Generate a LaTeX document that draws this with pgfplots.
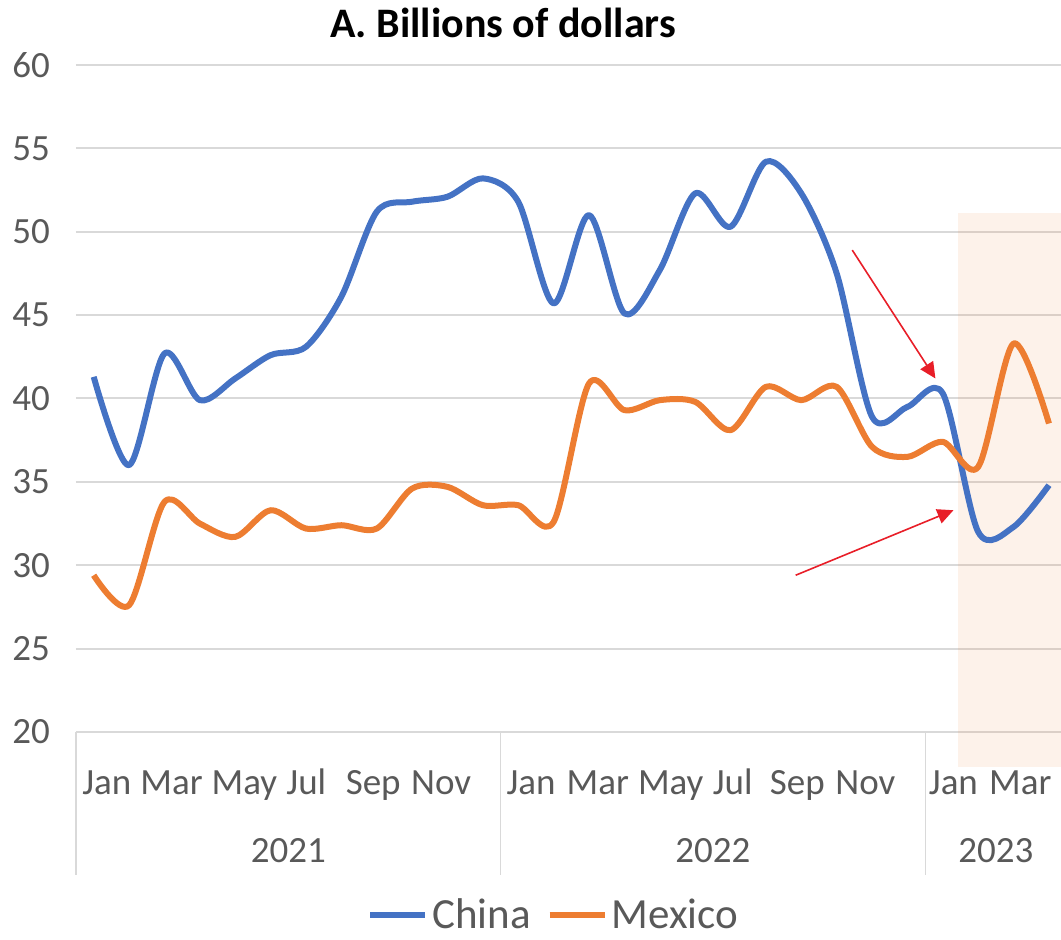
\documentclass[border=0pt]{standalone}
\usepackage{pgfplots}
\pgfplotsset{compat=1.18}
\usepackage{pgfplotstable}
\usepackage{fontspec}
\setmainfont{Carlito}
\usetikzlibrary{arrows.meta}

\definecolor{chinablue}{RGB}{68,114,196}
\definecolor{mexorange}{RGB}{237,125,49}
\definecolor{gridgray}{RGB}{217,217,217}
\definecolor{labgray}{RGB}{89,89,89}
\definecolor{arrred}{RGB}{232,30,40}

% monthly values, Jan 2021 = 0 ... Apr 2023 = 27
\pgfplotstableread{
m china mexico
0 41.3 29.4
1 36.0 27.6
2 42.7 33.8
3 39.9 32.5
4 41.2 31.7
5 42.6 33.3
6 43.1 32.2
7 46.1 32.4
8 51.2 32.2
9 51.8 34.6
10 52.1 34.7
11 53.2 33.6
12 51.8 33.6
13 45.7 32.6
14 51.0 40.9
15 45.1 39.3
16 47.7 39.9
17 52.3 39.8
18 50.3 38.1
19 54.2 40.7
20 52.3 39.9
21 47.5 40.7
22 38.9 37.1
23 39.5 36.5
24 40.3 37.4
25 32.0 35.9
26 32.3 43.3
27 34.8 38.5
}\trade

\begin{document}
\begin{tikzpicture}
\begin{axis}[
    scale only axis,
    width=492.5pt, height=333.5pt,
    xmin=-0.5, xmax=27.34,
    ymin=20, ymax=60,
    ytick={20,25,...,60},
    % month labels sit where the original chart put them
    xtick={0.37,2.2,4.26,6.01,7.9,9.82,12.36,14.25,16.31,18.06,19.89,21.81,24.3,26.19},
    xticklabels={Jan,Mar,May,Jul,Sep,Nov,Jan,Mar,May,Jul,Sep,Nov,Jan,Mar},
    major tick length=0pt,
    axis line style={draw=none},
    ymajorgrids=true,
    grid style={gridgray, line width=1pt},
    tick label style={font=\fontsize{18.5}{22}\selectfont, text=labgray},
    /pgf/number format/assume math mode=true,
    yticklabel style={xshift=-9.5pt},
    xticklabel style={anchor=base, yshift=-31.5pt},
    clip=false,
    title={\textbf{A. Billions of dollars}},
    every axis title shift=0pt,
    title style={at={(0.4335,1.0405)}, anchor=base, font=\fontsize{21}{25}\selectfont},
    legend columns=2,
    legend style={draw=none, at={(0.486,-0.274)}, anchor=center, inner sep=1pt,
        font=\fontsize{21.5}{25}\selectfont, text=labgray,
        /tikz/every even column/.append style={column sep=6pt}},
    legend image code/.code={\draw[#1, line width=3pt, sharp plot] (0pt,0pt) -- (27.5pt,0pt);},
]
\fill[mexorange, fill opacity=0.1] (axis cs:24.44,17.9) rectangle (axis cs:27.34,51.1);

\addplot[chinablue, line width=3pt, smooth, line join=round] table[x=m, y=china] {\trade};
\addlegendentry{China}
\addplot[mexorange, line width=3pt, smooth, line join=round] table[x=m, y=mexico] {\trade};
\addlegendentry{Mexico}

\draw[arrred, line width=0.8pt, -{Triangle[length=8pt, width=7.5pt]}]
    (axis cs:21.44,48.9) -- (axis cs:23.79,41.2);
\draw[arrred, line width=0.8pt, -{Triangle[length=8pt, width=7.5pt]}]
    (axis cs:19.84,29.4) -- (axis cs:24.3,33.3);

% year group separators and labels
\draw[gridgray, line width=0.6pt] (axis cs:-0.5,20) -- ([yshift=-71.5pt]axis cs:-0.5,20);
\draw[gridgray, line width=0.6pt] (axis cs:11.5,20) -- ([yshift=-71.5pt]axis cs:11.5,20);
\draw[gridgray, line width=0.6pt] (axis cs:23.5,20) -- ([yshift=-71.5pt]axis cs:23.5,20);
\node[anchor=base, font=\fontsize{18.5}{22}\selectfont, text=labgray] at ([yshift=-65.5pt]axis cs:5.5,20) {2021};
\node[anchor=base, font=\fontsize{18.5}{22}\selectfont, text=labgray] at ([yshift=-65.5pt]axis cs:17.5,20) {2022};
\node[anchor=base, font=\fontsize{18.5}{22}\selectfont, text=labgray] at ([yshift=-65.5pt]axis cs:25.5,20) {2023};
\end{axis}
\pgfresetboundingbox
\path ([xshift=-38pt, yshift=-104pt]current axis.south west) rectangle ([yshift=32.5pt]current axis.north east);
\end{tikzpicture}
\end{document}
